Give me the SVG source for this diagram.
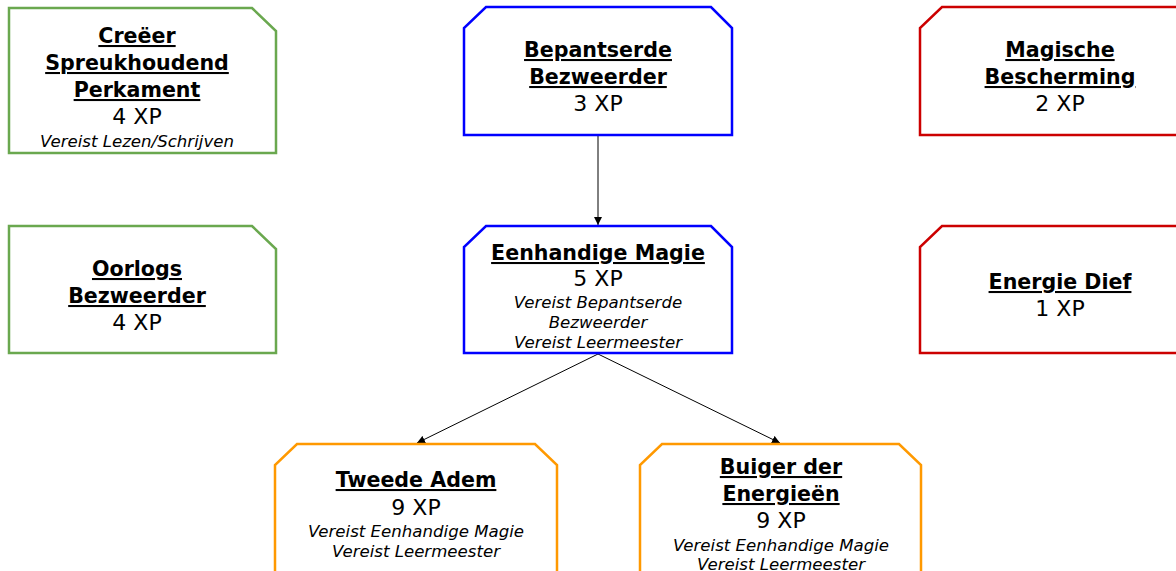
<svg xmlns="http://www.w3.org/2000/svg" width="1176" height="571" viewBox="0 0 1176 571">
  <style>
    .box { fill: #ffffff; stroke-width: 2.5; stroke-linejoin: miter; }
    .green { stroke: #6aa84f; }
    .blue { stroke: #0000ff; }
    .red { stroke: #cc0000; }
    .orange { stroke: #ff9900; }
    text { font-family: "DejaVu Sans", "Noto Sans", sans-serif; fill: #000000; text-anchor: middle; }
    .title { font-size: 20.6px; font-weight: bold; text-decoration: underline; }
    .xp { font-size: 22px; }
    .req { font-size: 16.6px; font-style: italic; }
    .edge { stroke: #000000; stroke-width: 1; fill: none; marker-end: url(#arrow); }
  </style>
  <defs>
    <marker id="arrow" viewBox="0 0 10 10" refX="10" refY="5" markerWidth="8" markerHeight="8" markerUnits="userSpaceOnUse" orient="auto">
      <path d="M0,0 L10,5 L0,10 z" fill="#000000"/>
    </marker>
  </defs>
  <rect width="1176" height="571" fill="#ffffff"/>

  <g id="connectors">
    <line class="edge" x1="598" y1="136" x2="598" y2="225"/>
    <line class="edge" x1="598" y1="354" x2="417" y2="443"/>
    <line class="edge" x1="598" y1="354" x2="780" y2="443"/>
  </g>

  <g id="node-spreukhoudend-perkament">
    <path class="box green" d="M9,8 H252 L276,31 V153 H9 Z"/>
    <text class="title" x="137" y="43">Creëer</text>
    <text class="title" x="137" y="70">Spreukhoudend</text>
    <text class="title" x="137" y="97">Perkament</text>
    <text class="xp" x="137" y="124">4 XP</text>
    <text class="req" x="137" y="147">Vereist Lezen/Schrijven</text>
  </g>

  <g id="node-bepantserde-bezweerder">
    <path class="box blue" d="M486,7 H711 L732,28 V135 H464 V28 Z"/>
    <text class="title" x="598" y="57">Bepantserde</text>
    <text class="title" x="598" y="84">Bezweerder</text>
    <text class="xp" x="598" y="111">3 XP</text>
  </g>

  <g id="node-magische-bescherming">
    <path class="box red" d="M942,7 H1190 V135 H920 V28 Z"/>
    <text class="title" x="1060" y="57">Magische</text>
    <text class="title" x="1060" y="84">Bescherming</text>
    <text class="xp" x="1060" y="111">2 XP</text>
  </g>

  <g id="node-oorlogs-bezweerder">
    <path class="box green" d="M9,226 H252 L276,249 V353 H9 Z"/>
    <text class="title" x="137" y="276">Oorlogs</text>
    <text class="title" x="137" y="303">Bezweerder</text>
    <text class="xp" x="137" y="330">4 XP</text>
  </g>

  <g id="node-eenhandige-magie">
    <path class="box blue" d="M486,226 H711 L732,247 V353 H464 V247 Z"/>
    <text class="title" x="598" y="260">Eenhandige Magie</text>
    <text class="xp" x="598" y="286">5 XP</text>
    <text class="req" x="598" y="308">Vereist Bepantserde</text>
    <text class="req" x="598" y="328">Bezweerder</text>
    <text class="req" x="598" y="348">Vereist Leermeester</text>
  </g>

  <g id="node-energie-dief">
    <path class="box red" d="M942,226 H1190 V353 H920 V247 Z"/>
    <text class="title" x="1060" y="289">Energie Dief</text>
    <text class="xp" x="1060" y="316">1 XP</text>
  </g>

  <g id="node-tweede-adem">
    <path class="box orange" d="M297,444 H535 L557,465 V590 H275 V465 Z"/>
    <text class="title" x="416" y="487">Tweede Adem</text>
    <text class="xp" x="416" y="515">9 XP</text>
    <text class="req" x="416" y="537">Vereist Eenhandige Magie</text>
    <text class="req" x="416" y="557">Vereist Leermeester</text>
  </g>

  <g id="node-buiger-der-energieen">
    <path class="box orange" d="M662,444 H899 L921,465 V590 H640 V465 Z"/>
    <text class="title" x="781" y="474">Buiger der</text>
    <text class="title" x="781" y="501">Energieën</text>
    <text class="xp" x="781" y="528">9 XP</text>
    <text class="req" x="781" y="551">Vereist Eenhandige Magie</text>
    <text class="req" x="781" y="570">Vereist Leermeester</text>
  </g>
</svg>
